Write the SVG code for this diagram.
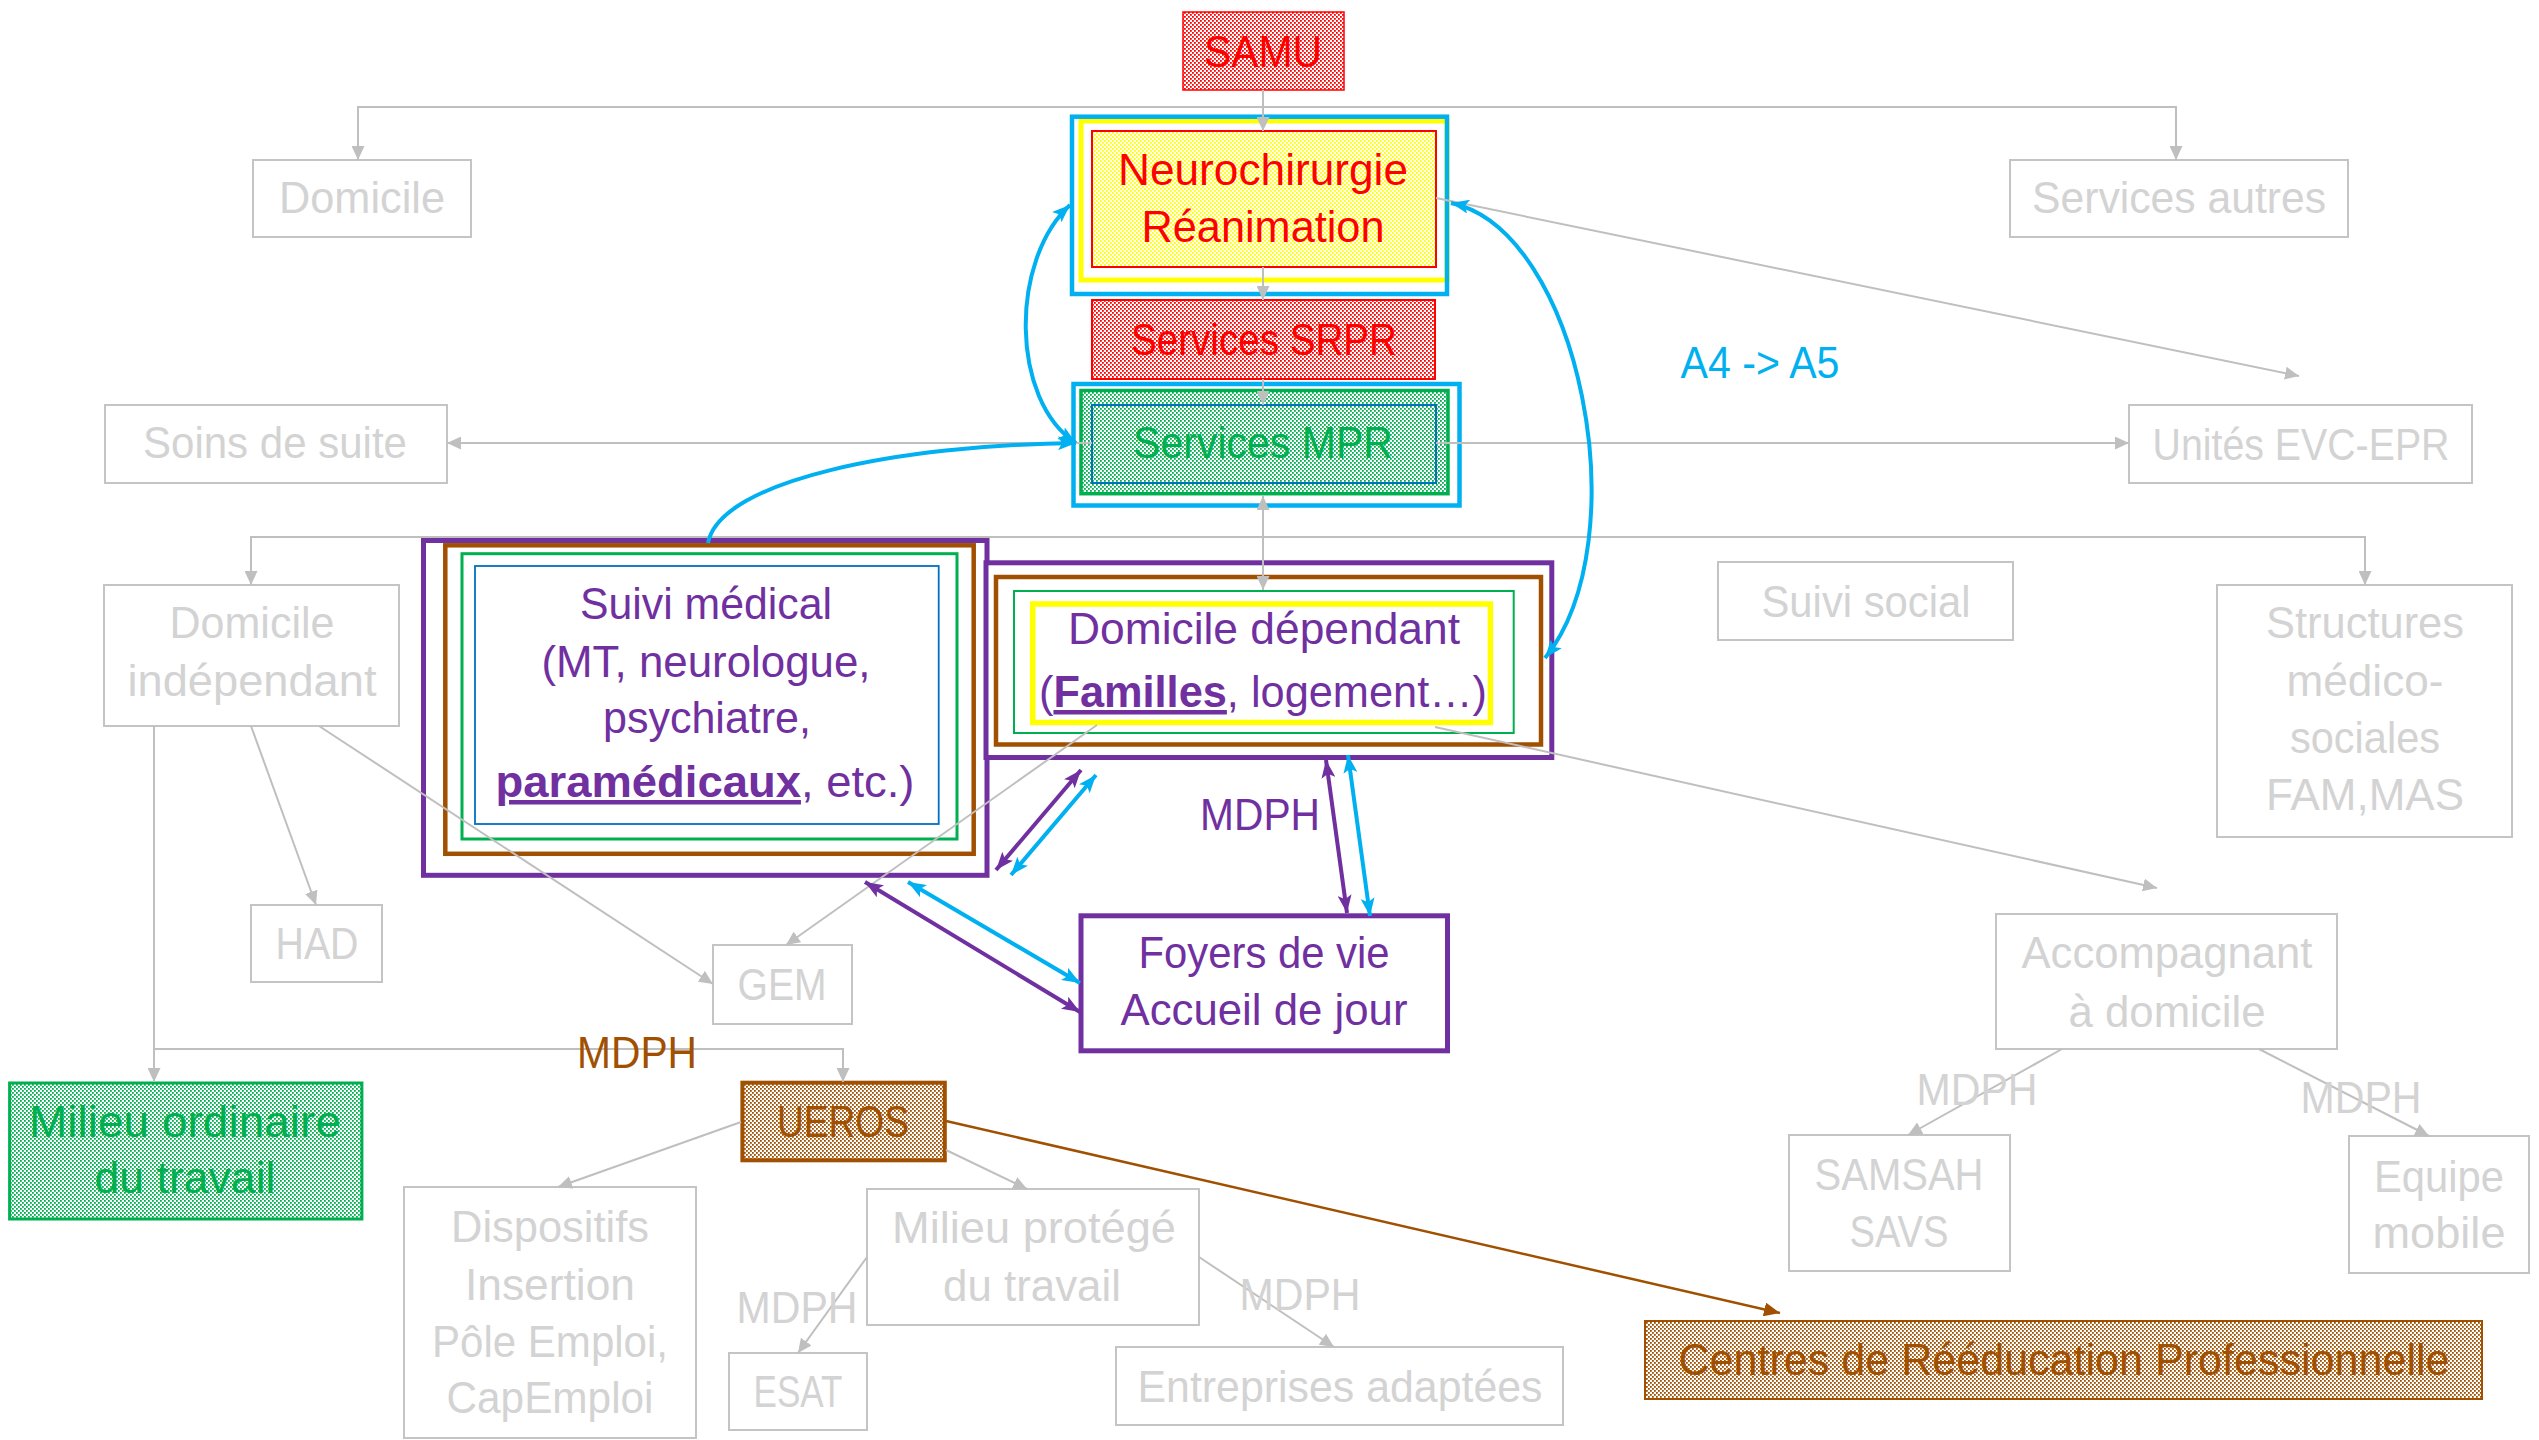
<svg xmlns="http://www.w3.org/2000/svg" width="2539" height="1440" viewBox="0 0 2539 1440">
<style>
.t{font-family:"Liberation Sans",Arial,sans-serif;font-size:45px;text-anchor:middle}
.g{fill:#D3D3D3}
.gb{fill:#fff;stroke:#C4C4C4;stroke-width:2}
.gl{fill:none;stroke:#BFBFBF;stroke-width:2}
.red{fill:#FF0000}.grn{fill:#00B050}.pur{fill:#7030A0}.brn{fill:#A05000}.cy{fill:#00B0F0}
.pl{fill:none;stroke:#7030A0;stroke-width:4}
.bl{fill:none;stroke:#00B0F0;stroke-width:4}
</style>
<defs>
<pattern id="pRed" width="4" height="4" patternUnits="userSpaceOnUse"><rect width="4" height="4" fill="#fff"/><rect width="1.8" height="1.8" fill="#FF0000"/><rect x="2" y="2" width="1.8" height="1.8" fill="#FF0000"/></pattern>
<pattern id="pYel" width="4" height="4" patternUnits="userSpaceOnUse"><rect width="4" height="4" fill="#fff"/><rect width="1.8" height="1.8" fill="#FFFF00"/><rect x="2" y="2" width="1.8" height="1.8" fill="#FFFF00"/></pattern>
<pattern id="pGrn" width="4" height="4" patternUnits="userSpaceOnUse"><rect width="4" height="4" fill="#fff"/><rect width="1.8" height="1.8" fill="#00B050"/><rect x="2" y="2" width="1.8" height="1.8" fill="#00B050"/></pattern>
<pattern id="pBrn" width="4" height="4" patternUnits="userSpaceOnUse"><rect width="4" height="4" fill="#fff"/><rect width="1.8" height="1.8" fill="#A05000"/><rect x="2" y="2" width="1.8" height="1.8" fill="#A05000"/></pattern>
<marker id="ag" viewBox="0 0 14 13" refX="14" refY="6.5" markerUnits="userSpaceOnUse" markerWidth="14" markerHeight="13" orient="auto-start-reverse"><path d="M0,0 L14,6.5 L0,13z" fill="#BFBFBF"/></marker>
<marker id="ab" viewBox="0 0 16 14" refX="16" refY="7" markerUnits="userSpaceOnUse" markerWidth="16" markerHeight="14" orient="auto-start-reverse"><path d="M0,0 L16,7 L0,14z" fill="#A05000"/></marker>
<marker id="ac" viewBox="0 0 18 14" refX="18" refY="7" markerUnits="userSpaceOnUse" markerWidth="18" markerHeight="14" orient="auto-start-reverse"><path d="M0,0 L18,7 L0,14 L4,7z" fill="#00B0F0"/></marker>
<marker id="ap" viewBox="0 0 18 14" refX="18" refY="7" markerUnits="userSpaceOnUse" markerWidth="18" markerHeight="14" orient="auto-start-reverse"><path d="M0,0 L18,7 L0,14 L4,7z" fill="#7030A0"/></marker>
</defs>
<rect width="2539" height="1440" fill="#fff"/>

<g id="n-samu">
<rect x="1183" y="12" width="161" height="78" fill="url(#pRed)" stroke="#FF0000" stroke-width="1.5"/>
<text class="t red" x="1263" y="67" textLength="118" lengthAdjust="spacingAndGlyphs">SAMU</text>
</g>
<g id="n-neuro">
<rect x="1081" y="121" width="366" height="159" fill="none" stroke="#FFFF00" stroke-width="5"/>
<rect x="1072" y="116.7" width="375" height="177.3" fill="none" stroke="#00B0F0" stroke-width="4.5"/>
<rect x="1092" y="131" width="344" height="136" fill="url(#pYel)" stroke="#FF0000" stroke-width="2"/>
<text class="t red" x="1263" y="185" textLength="290" lengthAdjust="spacingAndGlyphs">Neurochirurgie</text>
<text class="t red" x="1263" y="242" textLength="243" lengthAdjust="spacingAndGlyphs">Réanimation</text>
</g>
<g id="n-srpr">
<rect x="1092" y="300" width="343" height="79" fill="url(#pRed)" stroke="#FF0000" stroke-width="2"/>
<text class="t red" x="1264" y="355" textLength="266" lengthAdjust="spacingAndGlyphs">Services SRPR</text>
</g>
<g id="n-mpr">
<rect x="1073.5" y="384" width="386" height="121.5" fill="#fff" stroke="#00B0F0" stroke-width="4.5"/>
<rect x="1081" y="390.5" width="367" height="103.2" fill="url(#pGrn)" stroke="#00B050" stroke-width="3.5"/>
<rect x="1092" y="405" width="344" height="78" fill="none" stroke="#0070C0" stroke-width="2"/>
<text class="t grn" x="1263" y="458" textLength="260" lengthAdjust="spacingAndGlyphs">Services MPR</text>
</g>
<g id="n-domicile">
<rect class="gb" x="253" y="160" width="218" height="77"/>
<text class="t g" x="362" y="213" textLength="166" lengthAdjust="spacingAndGlyphs">Domicile</text>
</g>
<g id="n-services-autres">
<rect class="gb" x="2010" y="160" width="338" height="77"/>
<text class="t g" x="2179" y="213" textLength="294" lengthAdjust="spacingAndGlyphs">Services autres</text>
</g>
<g id="n-soins">
<rect class="gb" x="105" y="405" width="342" height="78"/>
<text class="t g" x="275" y="458" textLength="264" lengthAdjust="spacingAndGlyphs">Soins de suite</text>
</g>
<g id="n-unites">
<rect class="gb" x="2129" y="405" width="343" height="78"/>
<text class="t g" x="2301" y="460" textLength="297" lengthAdjust="spacingAndGlyphs">Unités EVC-EPR</text>
</g>
<g id="n-suivi-social">
<rect class="gb" x="1718" y="562" width="295" height="78"/>
<text class="t g" x="1866" y="617" textLength="209" lengthAdjust="spacingAndGlyphs">Suivi social</text>
</g>
<g id="n-dom-indep">
<rect class="gb" x="104" y="585" width="295" height="141"/>
<text class="t g" x="252" y="638" textLength="165" lengthAdjust="spacingAndGlyphs">Domicile</text>
<text class="t g" x="252" y="696" textLength="249" lengthAdjust="spacingAndGlyphs">indépendant</text>
</g>
<g id="n-structures">
<rect class="gb" x="2217" y="585" width="295" height="252"/>
<text class="t g" x="2365" y="638" textLength="198" lengthAdjust="spacingAndGlyphs">Structures</text>
<text class="t g" x="2365" y="696" textLength="157" lengthAdjust="spacingAndGlyphs">médico-</text>
<text class="t g" x="2365" y="753" textLength="150" lengthAdjust="spacingAndGlyphs">sociales</text>
<text class="t g" x="2365" y="810" textLength="198" lengthAdjust="spacingAndGlyphs">FAM,MAS</text>
</g>
<g id="n-suivi-medical">
<rect x="423.5" y="540.5" width="563.5" height="334.8" fill="#fff" stroke="#7030A0" stroke-width="5"/>
<rect x="445.3" y="545.3" width="528.4" height="308.5" fill="none" stroke="#A05000" stroke-width="4.5"/>
<rect x="462" y="553.7" width="495" height="285.3" fill="none" stroke="#00B050" stroke-width="3"/>
<rect x="475" y="566" width="463.7" height="258" fill="none" stroke="#0070C0" stroke-width="1.8"/>
<text class="t pur" x="706" y="619" textLength="252" lengthAdjust="spacingAndGlyphs">Suivi médical</text>
<text class="t pur" x="706" y="677" textLength="329" lengthAdjust="spacingAndGlyphs">(MT, neurologue,</text>
<text class="t pur" x="707" y="733" textLength="208" lengthAdjust="spacingAndGlyphs">psychiatre,</text>
<text class="t pur" x="705" y="797" textLength="419" lengthAdjust="spacingAndGlyphs"><tspan font-weight="bold" text-decoration="underline">paramédicaux</tspan>, etc.)</text>
</g>
<g id="n-dom-dep">
<rect x="986" y="562.8" width="565.8" height="194.7" fill="#fff" stroke="#7030A0" stroke-width="5"/>
<rect x="996" y="577" width="545" height="167.5" fill="none" stroke="#A05000" stroke-width="4.5"/>
<rect x="1014" y="591" width="499.7" height="142" fill="none" stroke="#00B050" stroke-width="2"/>
<rect x="1032.7" y="604" width="457.7" height="118.5" fill="none" stroke="#FFFF00" stroke-width="5.5"/>
<text class="t pur" x="1264" y="644" textLength="392" lengthAdjust="spacingAndGlyphs">Domicile dépendant</text>
<text class="t pur" x="1263" y="707" textLength="448" lengthAdjust="spacingAndGlyphs">(<tspan font-weight="bold" text-decoration="underline">Familles</tspan>, logement…)</text>
</g>
<g id="n-foyers">
<rect x="1081" y="915.8" width="366.5" height="135" fill="#fff" stroke="#7030A0" stroke-width="5"/>
<text class="t pur" x="1264" y="968" textLength="251" lengthAdjust="spacingAndGlyphs">Foyers de vie</text>
<text class="t pur" x="1264" y="1025" textLength="287" lengthAdjust="spacingAndGlyphs">Accueil de jour</text>
</g>
<g id="n-had">
<rect class="gb" x="251" y="905" width="131" height="77"/>
<text class="t g" x="317" y="959" textLength="83" lengthAdjust="spacingAndGlyphs">HAD</text>
</g>
<g id="n-gem">
<rect class="gb" x="713" y="945" width="139" height="79"/>
<text class="t g" x="782" y="1000" textLength="89" lengthAdjust="spacingAndGlyphs">GEM</text>
</g>
<g id="n-accompagnant">
<rect class="gb" x="1996" y="914" width="341" height="135"/>
<text class="t g" x="2167" y="968" textLength="291" lengthAdjust="spacingAndGlyphs">Accompagnant</text>
<text class="t g" x="2167" y="1027" textLength="197" lengthAdjust="spacingAndGlyphs">à domicile</text>
</g>
<g id="n-milieu-ordinaire">
<rect x="9.6" y="1083" width="352.3" height="136" fill="url(#pGrn)" stroke="#00B050" stroke-width="3"/>
<text class="t grn" x="185" y="1137" textLength="312" lengthAdjust="spacingAndGlyphs">Milieu ordinaire</text>
<text class="t grn" x="185" y="1193" textLength="181" lengthAdjust="spacingAndGlyphs">du travail</text>
</g>
<g id="n-ueros">
<rect x="742.4" y="1082.7" width="202.4" height="77.6" fill="url(#pBrn)" stroke="#A05000" stroke-width="4"/>
<text class="t brn" x="843" y="1137" textLength="132" lengthAdjust="spacingAndGlyphs">UEROS</text>
</g>
<g id="n-dispositifs">
<rect class="gb" x="404" y="1187" width="292" height="251"/>
<text class="t g" x="550" y="1242" textLength="198" lengthAdjust="spacingAndGlyphs">Dispositifs</text>
<text class="t g" x="550" y="1300" textLength="170" lengthAdjust="spacingAndGlyphs">Insertion</text>
<text class="t g" x="550" y="1357" textLength="236" lengthAdjust="spacingAndGlyphs">Pôle Emploi,</text>
<text class="t g" x="550" y="1413" textLength="207" lengthAdjust="spacingAndGlyphs">CapEmploi</text>
</g>
<g id="n-milieu-protege">
<rect class="gb" x="867" y="1189" width="332" height="136"/>
<text class="t g" x="1034" y="1243" textLength="284" lengthAdjust="spacingAndGlyphs">Milieu protégé</text>
<text class="t g" x="1032" y="1301" textLength="178" lengthAdjust="spacingAndGlyphs">du travail</text>
</g>
<g id="n-esat">
<rect class="gb" x="729" y="1353" width="138" height="77"/>
<text class="t g" x="798" y="1407" textLength="89" lengthAdjust="spacingAndGlyphs">ESAT</text>
</g>
<g id="n-entreprises">
<rect class="gb" x="1116" y="1347" width="447" height="78"/>
<text class="t g" x="1340" y="1402" textLength="405" lengthAdjust="spacingAndGlyphs">Entreprises adaptées</text>
</g>
<g id="n-centres">
<rect x="1645" y="1321" width="837" height="78" fill="url(#pBrn)" stroke="#A05000" stroke-width="2"/>
<text class="t brn" x="2064" y="1375" textLength="771" lengthAdjust="spacingAndGlyphs">Centres de Rééducation Professionnelle</text>
</g>
<g id="n-samsah">
<rect class="gb" x="1789" y="1135" width="221" height="136"/>
<text class="t g" x="1899" y="1190" textLength="169" lengthAdjust="spacingAndGlyphs">SAMSAH</text>
<text class="t g" x="1899" y="1247" textLength="99" lengthAdjust="spacingAndGlyphs">SAVS</text>
</g>
<g id="n-equipe">
<rect class="gb" x="2349" y="1136" width="180" height="137"/>
<text class="t g" x="2439" y="1192" textLength="130" lengthAdjust="spacingAndGlyphs">Equipe</text>
<text class="t g" x="2439" y="1248" textLength="133" lengthAdjust="spacingAndGlyphs">mobile</text>
</g>

<g id="connectors">
<path class="gl" d="M358,160 L358,107 L2176,107 L2176,160" marker-start="url(#ag)" marker-end="url(#ag)"/>
<path class="gl" d="M1263,90 L1263,131" marker-end="url(#ag)"/>
<path class="gl" d="M1263,267 L1263,300" marker-end="url(#ag)"/>
<path class="gl" d="M1263,379 L1263,405" marker-end="url(#ag)"/>
<path class="gl" d="M1263,496 L1263,590" marker-start="url(#ag)" marker-end="url(#ag)"/>
<path class="gl" d="M1092,443 L447,443" marker-end="url(#ag)"/>
<path class="gl" d="M1436,443 L2129,443" marker-end="url(#ag)"/>
<path class="gl" d="M1436,198 L2299,376" marker-end="url(#ag)"/>
<path class="gl" d="M251,585 L251,537 L2365,537 L2365,585" marker-start="url(#ag)" marker-end="url(#ag)"/>
<path class="gl" d="M251,726 L316,905" marker-end="url(#ag)"/>
<path class="gl" d="M319,726 L713,984" marker-end="url(#ag)"/>
<path class="gl" d="M154,726 L154,1082" marker-end="url(#ag)"/>
<path class="gl" d="M154,1049 L843,1049 L843,1082" marker-end="url(#ag)"/>
<path class="gl" d="M1097,725 L786,945" marker-end="url(#ag)"/>
<path class="gl" d="M1435,727 L2157,888" marker-end="url(#ag)"/>
<path class="gl" d="M741,1122 L558,1187" marker-end="url(#ag)"/>
<path class="gl" d="M946,1150 L1027,1189" marker-end="url(#ag)"/>
<path class="gl" d="M867,1257 L798,1353" marker-end="url(#ag)"/>
<path class="gl" d="M1199,1257 L1334,1347" marker-end="url(#ag)"/>
<path class="gl" d="M2062,1049 L1908,1135" marker-end="url(#ag)"/>
<path class="gl" d="M2259,1049 L2429,1136" marker-end="url(#ag)"/>
<path d="M946,1121 L1780,1313" fill="none" stroke="#A05000" stroke-width="2.5" marker-end="url(#ab)"/>
<path class="bl" d="M1070,205 C1010,260 1010,400 1076,443" marker-start="url(#ac)" marker-end="url(#ac)"/>
<path class="bl" d="M708,543 C720,480 900,445 1076,443" marker-end="url(#ac)"/>
<path class="bl" d="M1451,203 C1580,230 1640,540 1545,658" marker-start="url(#ac)" marker-end="url(#ac)"/>
<path class="pl" d="M1081,770 L996,870" marker-start="url(#ap)" marker-end="url(#ap)"/>
<path class="bl" d="M1096,775 L1011,875" marker-start="url(#ac)" marker-end="url(#ac)"/>
<path class="pl" d="M1326,760 L1347,913" marker-start="url(#ap)" marker-end="url(#ap)"/>
<path class="bl" d="M1348,755 L1370,916" marker-start="url(#ac)" marker-end="url(#ac)"/>
<path class="pl" d="M865,882 L1080,1012" marker-start="url(#ap)" marker-end="url(#ap)"/>
<path class="bl" d="M908,882 L1080,983" marker-start="url(#ac)" marker-end="url(#ac)"/>
<text class="t cy" x="1760" y="378" textLength="159" lengthAdjust="spacingAndGlyphs">A4 -&gt; A5</text>
<text class="t pur" x="1260" y="830" textLength="120" lengthAdjust="spacingAndGlyphs">MDPH</text>
<text class="t brn" x="637" y="1068" textLength="120" lengthAdjust="spacingAndGlyphs">MDPH</text>
<text class="t g" x="797" y="1323" textLength="121" lengthAdjust="spacingAndGlyphs">MDPH</text>
<text class="t g" x="1300" y="1310" textLength="121" lengthAdjust="spacingAndGlyphs">MDPH</text>
<text class="t g" x="1977" y="1105" textLength="121" lengthAdjust="spacingAndGlyphs">MDPH</text>
<text class="t g" x="2361" y="1113" textLength="121" lengthAdjust="spacingAndGlyphs">MDPH</text>
</g>
</svg>
